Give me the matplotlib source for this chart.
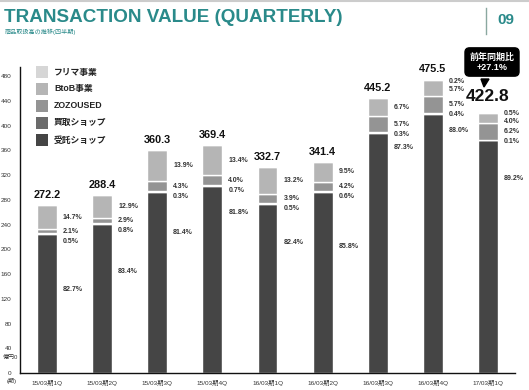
import numpy as np
import matplotlib
matplotlib.use("Agg")
import matplotlib.pyplot as plt
from matplotlib.patches import Polygon, Rectangle
from matplotlib.lines import Line2D

plt.rcParams['font.family'] = ['Liberation Sans', 'Noto Sans CJK JP', 'DejaVu Sans']

# data (億円, shares in %)
quarters = ["15/03期1Q", "15/03期2Q", "15/03期3Q", "15/03期4Q",
            "16/03期1Q", "16/03期2Q", "16/03期3Q", "16/03期4Q", "17/03期1Q"]
totals = [272.2, 288.4, 360.3, 369.4, 332.7, 341.4, 445.2, 475.5, 422.8]
share_itaku = [82.7, 83.4, 81.4, 81.8, 82.4, 85.8, 87.3, 88.0, 89.2]
share_kaitori = [0.5, 0.8, 0.3, 0.7, 0.5, 0.6, 0.3, 0.4, 0.1]
share_zozoused = [2.1, 2.9, 4.3, 4.0, 3.9, 4.2, 5.7, 5.7, 6.2]
share_btob = [14.7, 12.9, 13.9, 13.4, 13.2, 9.5, 6.7, 5.7, 4.0]
share_furima = [np.nan, np.nan, np.nan, np.nan, np.nan, np.nan, np.nan, 0.2, 0.5]
yoy_text = "前年同期比\n+27.1%"

series_names = ["受託ショップ", "買取ショップ", "ZOZOUSED", "BtoB事業", "フリマ事業"]
series_shares = [share_itaku, share_kaitori, share_zozoused, share_btob, share_furima]
colors = ["#454545", "#6b6b6b", "#949494", "#b5b5b5", "#d6d6d6"]

# layout: how far (px) the 受託 label sits below the top of its segment
itaku_label_drop = [56, 47, 41, 26, 39, 55, 15, 16, 39]

W, H = 529, 390
fig = plt.figure(figsize=(W / 100, H / 100), dpi=100)
ax = fig.add_axes([20 / W, 17 / H, 495 / W, 306 / H])
ax.set_xlim(-0.49, 8.49)
ax.set_ylim(0, 495)
upp = 495 / 306  # data units per pixel

x = np.arange(len(quarters))
tot = np.array(totals)
width = 0.36
bottom = np.zeros(len(x))
seg = {}
for name, sh, c in zip(series_names, series_shares, colors):
    vals = tot * np.nan_to_num(np.array(sh, dtype=float)) / 100
    ax.bar(x, vals, width, bottom=bottom, color=c, edgecolor="white",
           linewidth=1.0, label=name)
    seg[name] = (bottom.copy(), vals)
    bottom = bottom + vals

txt = dict(fontsize=5, fontweight="bold", color="#333333", va="center", ha="left")
for i in range(len(x)):
    lx = x[i] + width / 2 + 0.11
    top = tot[i]
    # フリマ
    fy = None
    if not np.isnan(share_furima[i]):
        fy = top - 2 * upp
        ax.text(lx, fy, f"{share_furima[i]:.1f}%", **txt)
    b0, v = seg["BtoB事業"][0][i], seg["BtoB事業"][1][i]
    by = b0 + v / 2
    if fy is not None:
        by = min(by, fy - 8 * upp)
    ax.text(lx, by, f"{share_btob[i]:.1f}%", **txt)
    z0, zv = seg["ZOZOUSED"][0][i], seg["ZOZOUSED"][1][i]
    zy = min(z0 + zv / 2, by - 8 * upp)
    ax.text(lx, zy, f"{share_zozoused[i]:.1f}%", **txt)
    ax.text(lx, zy - 10 * upp, f"{share_kaitori[i]:.1f}%", **txt)
    d_top = seg["受託ショップ"][1][i]
    ax.text(lx, d_top - itaku_label_drop[i] * upp, f"{share_itaku[i]:.1f}%", **txt)
    # total
    last = i == len(x) - 1
    ax.text(x[i], top + (15 if last else 10) * upp, f"{totals[i]:.1f}",
            ha="center", va="center", fontweight="bold",
            fontsize=12.5 if last else 7.8, color="#111111")

ax.set_yticks(np.arange(0, 481, 40))
ax.set_xticks(x)
ax.set_xticklabels(quarters)
ax.tick_params(axis="both", length=0, labelsize=4.6, colors="#333333")
ax.tick_params(axis="y", pad=6)
ax.tick_params(axis="x", pad=5)
for s in ["top", "right"]:
    ax.spines[s].set_visible(False)
for s in ["left", "bottom"]:
    ax.spines[s].set_color("#111111")
    ax.spines[s].set_linewidth(1.0)

# legend, drawn by hand: top row is フリマ事業
for k, (name, c) in enumerate(zip(series_names[::-1], colors[::-1])):
    cy = 72 + k * 17
    fig.add_artist(Rectangle((36 / W, 1 - (cy + 6) / H), 12 / W, 12 / H,
                             transform=fig.transFigure, fc=c, ec="none"))
    fig.text(54 / W, 1 - cy / H, name, fontsize=6.3, fontweight="bold",
             color="#222222", va="center", ha="left")

# header
teal = "#2a8a8a"
fig.add_artist(Line2D([0, 1], [1 - 1 / H, 1 - 1 / H], color="#cccccc", lw=1.5))
fig.text(4 / W, 1 - 17 / H, "TRANSACTION VALUE (QUARTERLY)", fontsize=13.6,
         fontweight="bold", color=teal, va="center", ha="left")
fig.text(5 / W, 1 - 32 / H, "商品取扱高の推移(四半期)", fontsize=4.4,
         color=teal, va="center", ha="left")
fig.add_artist(Line2D([486 / W, 486 / W], [1 - 8 / H, 1 - 34 / H], color="#8aa8a0", lw=1))
fig.text(497 / W, 1 - 20 / H, "09", fontsize=11, fontweight="bold", color=teal,
         va="center", ha="left")

# axis unit labels
fig.text(3 / W, 1 - 357 / H, "億円0", fontsize=4.3, color="#333333", va="center")
fig.text(7 / W, 1 - 381 / H, "(期)", fontsize=4.3, color="#333333", va="center")

# yoy callout
fig.text(492 / W, 1 - 62 / H, yoy_text, fontsize=6.5, fontweight="bold", color="white",
         ha="center", va="center", linespacing=1.15,
         bbox=dict(boxstyle="round,pad=0.5,rounding_size=0.5", fc="black", ec="black"))
fig.add_artist(Polygon([[481 / W, 1 - 79 / H], [489 / W, 1 - 79 / H], [484 / W, 1 - 87 / H]],
                       closed=True, transform=fig.transFigure, fc="black", ec="black"))

fig.savefig("out.png", dpi=100)
